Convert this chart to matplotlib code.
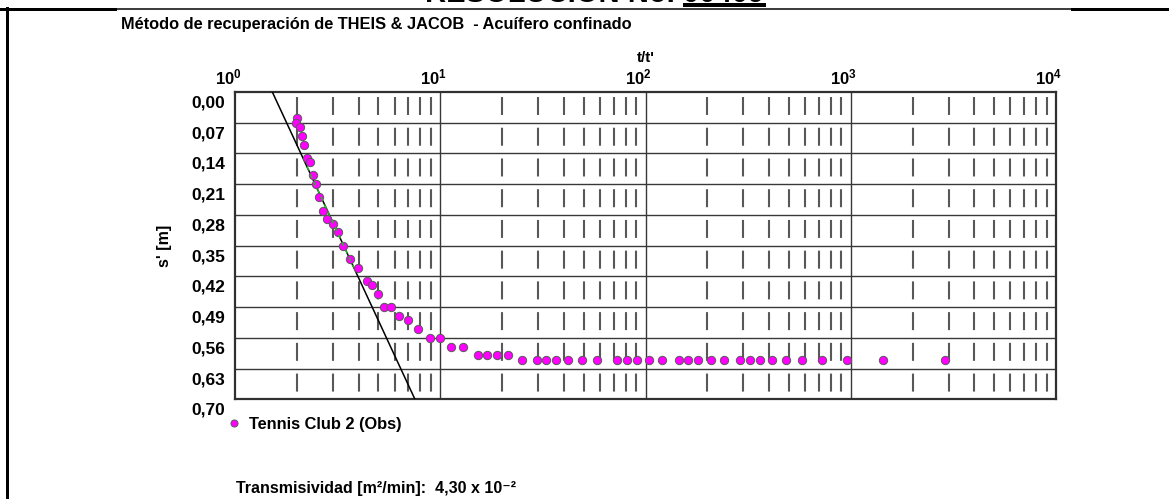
import matplotlib
matplotlib.use("Agg")
import matplotlib.pyplot as plt
import matplotlib.transforms as mtransforms
from matplotlib.lines import Line2D
from matplotlib.ticker import NullLocator
import numpy as np

# values
t_ratio = [2.01, 1.98, 2.07, 2.12, 2.18, 2.24, 2.31, 2.41, 2.48, 2.58,
           2.69, 2.81, 3.00, 3.18, 3.37, 3.62, 3.96, 4.38, 4.63, 4.98,
           5.34, 5.74, 6.28, 6.99, 7.79, 8.94, 9.94, 11.3, 12.9, 15.3,
           16.9, 18.9, 21.5, 24.9, 29.7, 32.7, 36.8, 41.9, 49.2, 58.3,
           72.9, 81.0, 90.9, 104, 121, 145, 161, 181, 208, 241,
           290, 323, 361, 413, 484, 581, 722, 961, 1441, 2879]
s_resid = [0.06, 0.07, 0.08, 0.10, 0.12, 0.15, 0.16, 0.19, 0.21, 0.24,
           0.27, 0.29, 0.30, 0.32, 0.35, 0.38, 0.40, 0.43, 0.44, 0.46,
           0.49, 0.49, 0.51, 0.52, 0.54, 0.56, 0.56, 0.58, 0.58, 0.60,
           0.60, 0.60, 0.60, 0.61, 0.61, 0.61, 0.61, 0.61, 0.61, 0.61,
           0.61, 0.61, 0.61, 0.61, 0.61, 0.61, 0.61, 0.61, 0.61, 0.61,
           0.61, 0.61, 0.61, 0.61, 0.61, 0.61, 0.61, 0.61, 0.61, 0.61]

# Jacob straight line and the stretch used for the fit
fit_t = [1.52, 7.53]
fit_s = [0.00, 0.70]
sel_s = [0.17, 0.40]

y_ticks = [0.00, 0.07, 0.14, 0.21, 0.28, 0.35, 0.42, 0.49, 0.56, 0.63, 0.70]
y_labels = ['0,00', '0,07', '0,14', '0,21', '0,28', '0,35',
            '0,42', '0,49', '0,56', '0,63', '0,70']
x_ticks = [1, 10, 100, 1000, 10000]
x_labels = ['$10^{0}$', '$10^{1}$', '$10^{2}$', '$10^{3}$', '$10^{4}$']

title = "Método de recuperación de THEIS & JACOB  - Acuífero confinado"
header = "RESOLUCIÓN No. 00409"
series_name = "Tennis Club 2 (Obs)"
transm = "Transmisividad [m²/min]:  4,30 x 10⁻²"

W, H, DPI = 1169, 499, 100
plt.rcParams['font.family'] = ['Liberation Sans', 'DejaVu Sans']
plt.rcParams['font.weight'] = 'bold'
plt.rcParams['mathtext.fontset'] = 'custom'
plt.rcParams['mathtext.rm'] = 'Liberation Sans:bold'
plt.rcParams['mathtext.bf'] = 'Liberation Sans:bold'
plt.rcParams['mathtext.it'] = 'Liberation Sans:bold'
plt.rcParams['mathtext.default'] = 'rm'
plt.rcParams['lines.scale_dashes'] = False


def fx(px):
    return px / W


def fy(py):
    return 1 - py / H


fig = plt.figure(figsize=(W / DPI, H / DPI), dpi=DPI)
ax_top, ax_bot = 92, 399.3
ax = fig.add_axes([fx(235), fy(ax_bot), fx(1056) - fx(235), fy(ax_top) - fy(ax_bot)])
ax.set_xscale('log')
ax.set_xlim(1, 1e4)
ax.set_ylim(0.70, 0.0)

# grid: solid rows and decades, dashed minor decades
ax.hlines(y_ticks[1:-1], 1, 1e4, colors='#383838', lw=1.0, zorder=1)
ax.vlines(x_ticks[1:-1], 0, 0.7, colors='#383838', lw=1.0, zorder=1)
minor = [m * 10 ** k for k in range(4) for m in range(2, 10)]
px2pt = 72 / DPI
period = (ax_bot - ax_top) / 10
on_px = 18
off_px = period - on_px
dash = ((on_px + off_px - 5) * px2pt, (on_px * px2pt, off_px * px2pt))
ax.vlines(minor, 0, 0.7, colors='#585858', linestyles=[dash], lw=1.5, zorder=1)

for sp in ax.spines.values():
    sp.set_color('#303030')
    sp.set_linewidth(1.6)

# fit line and observed points
ax.plot(fit_t, fit_s, color='black', lw=1.1, zorder=3)
log_fit = np.log10(fit_t)
sel_t = 10 ** np.interp(sel_s, fit_s, log_fit)
ax.plot(sel_t, sel_s, color='#22bb22', lw=1.0, ls=(0, (3, 3)), zorder=5)
ax.plot(t_ratio, s_resid, 'o', ms=6, mfc='#ff00ff', mec='#5a5a5a', mew=0.7,
        label=series_name, zorder=4)

# axes ticks
ax.xaxis.set_ticks_position('top')
ax.set_xticks(x_ticks, x_labels)
ax.xaxis.set_minor_locator(NullLocator())
ax.tick_params(axis='x', which='both', length=0, pad=3.5, labelsize=12,
               labeltop=True, labelbottom=False)
for lab in ax.get_xticklabels():
    lab.set_transform(lab.get_transform() +
                      mtransforms.ScaledTranslation(-7 / DPI, 0, fig.dpi_scale_trans))

ax.set_yticks(y_ticks, y_labels)
ax.tick_params(axis='y', length=0, pad=7, labelsize=12.5)
for lab in ax.get_yticklabels():
    lab.set_transform(lab.get_transform() +
                      mtransforms.ScaledTranslation(0, -9.5 / DPI, fig.dpi_scale_trans))

ax.text(-0.0853, 0.5, "s' [m]", rotation=90, transform=ax.transAxes,
        ha='center', va='center', fontsize=11.5)
ax.text(0.5, 1.1107, "t/t'", transform=ax.transAxes,
        ha='center', va='center', fontsize=11)

ax.legend(loc='center left', bbox_to_anchor=(-0.0091, -0.0804), frameon=False,
          handlelength=0.8, handletextpad=0.5, borderpad=0, borderaxespad=0,
          fontsize=11.8, markerscale=0.85)

# page texts
fig.text(fx(121), fy(25), title, fontsize=11.8, va='center')
fig.text(fx(236), fy(493), transm, fontsize=11.5, va='baseline')
fig.text(fx(425), fy(2), header, fontsize=21, va='baseline')

# page frame
fig.add_artist(Line2D([fx(683), fx(766)], [fy(5.3)] * 2, lw=4 * px2pt,
                      color='black', solid_capstyle='butt'))
fig.add_artist(Line2D([fx(7)] * 2, [fy(8), fy(499)], lw=3 * px2pt, color='black'))
fig.add_artist(Line2D([fx(0), fx(115)], [fy(8.5)] * 2, lw=3 * px2pt, color='black'))
fig.add_artist(Line2D([fx(115), fx(1072)], [fy(8.5)] * 2, lw=1.5 * px2pt, color='black'))
fig.add_artist(Line2D([fx(1072), fx(1169)], [fy(8.5)] * 2, lw=3 * px2pt, color='black'))

fig.savefig('out.png', dpi=DPI)
